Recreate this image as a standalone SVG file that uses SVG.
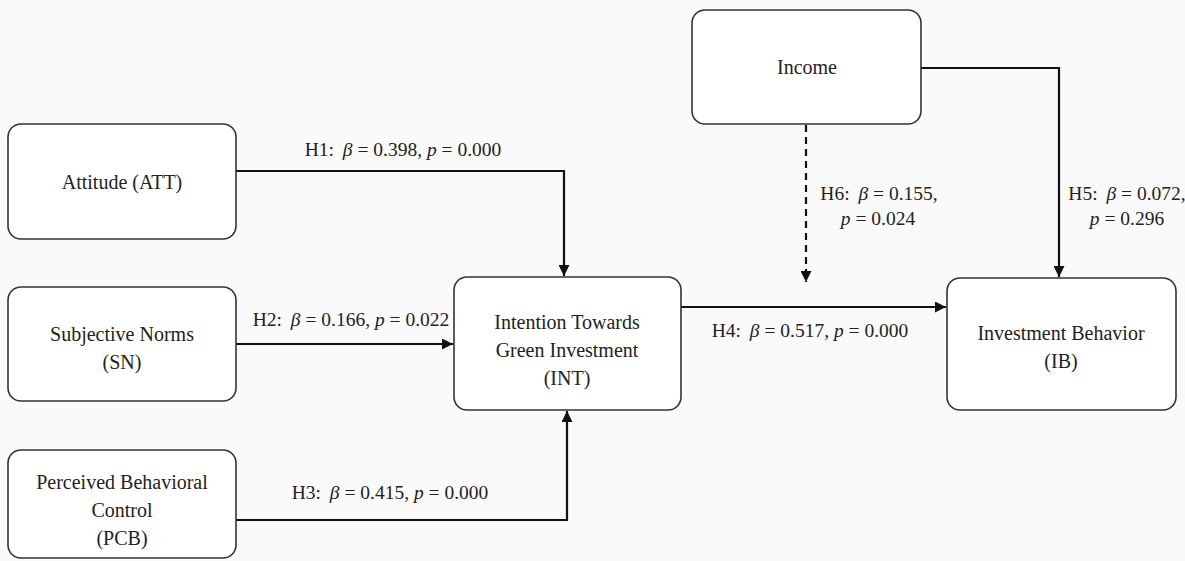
<svg xmlns="http://www.w3.org/2000/svg" width="1185" height="561" viewBox="0 0 1185 561">
<style>
.box{fill:#ffffff;stroke:#333;stroke-width:1.6}
.t{font-family:"Liberation Serif","Times New Roman",serif;font-size:20px;fill:#222;text-anchor:middle}
.l{font-size:19.5px}
.i{font-style:italic}
.c{fill:none;stroke:#111;stroke-width:2.2}
.d{stroke-dasharray:7 5}
</style>
<defs>
<marker id="ah" viewBox="0 0 10 10" refX="10" refY="5" markerWidth="5" markerHeight="5" orient="auto" markerUnits="strokeWidth">
<path d="M0,0 L10,5 L0,10 z" fill="#111"/>
</marker>
</defs>
<rect width="1185" height="561" fill="#fafafa"/>
<g id="connectors">
<path class="c" d="M236,171 H564 V276" marker-end="url(#ah)"/>
<path class="c" d="M236,344 H453" marker-end="url(#ah)"/>
<path class="c" d="M236,520 H567 V411" marker-end="url(#ah)"/>
<path class="c" d="M681,307 H946" marker-end="url(#ah)"/>
<path class="c" d="M921,68 H1059 V277" marker-end="url(#ah)"/>
<path class="c d" d="M806,125 V282" marker-end="url(#ah)"/>
<text class="t l" x="403" y="156">H1: <tspan class="i" dx="4">β</tspan> = 0.398, <tspan class="i">p</tspan> = 0.000</text>
<text class="t l" x="351" y="326">H2: <tspan class="i" dx="4">β</tspan> = 0.166, <tspan class="i">p</tspan> = 0.022</text>
<text class="t l" x="390" y="499">H3: <tspan class="i" dx="4">β</tspan> = 0.415, <tspan class="i">p</tspan> = 0.000</text>
<text class="t l" x="810" y="337">H4: <tspan class="i" dx="4">β</tspan> = 0.517, <tspan class="i">p</tspan> = 0.000</text>
<text class="t l" x="879" y="200">H6: <tspan class="i" dx="4">β</tspan> = 0.155,</text>
<text class="t l" x="878" y="225"><tspan class="i">p</tspan> = 0.024</text>
<text class="t l" x="1127" y="200">H5: <tspan class="i" dx="4">β</tspan> = 0.072,</text>
<text class="t l" x="1127" y="225"><tspan class="i">p</tspan> = 0.296</text>
</g>
<g id="att">
<rect class="box" x="8" y="124" width="228" height="115" rx="13"/>
<text class="t" x="122" y="189">Attitude (ATT)</text>
</g>
<g id="sn">
<rect class="box" x="8" y="287" width="228" height="114" rx="13"/>
<text class="t" x="122" y="341">Subjective Norms</text>
<text class="t" x="122" y="369">(SN)</text>
</g>
<g id="pcb">
<rect class="box" x="8" y="450" width="228" height="108" rx="13"/>
<text class="t" x="122" y="489">Perceived Behavioral</text>
<text class="t" x="122" y="517">Control</text>
<text class="t" x="122" y="545">(PCB)</text>
</g>
<g id="int">
<rect class="box" x="454" y="277" width="227" height="133" rx="13"/>
<text class="t" x="567" y="329">Intention Towards</text>
<text class="t" x="567" y="357">Green Investment</text>
<text class="t" x="567" y="385">(INT)</text>
</g>
<g id="income">
<rect class="box" x="692" y="10" width="229" height="114" rx="13"/>
<text class="t" x="807" y="74">Income</text>
</g>
<g id="ib">
<rect class="box" x="947" y="278" width="229" height="132" rx="13"/>
<text class="t" x="1061" y="340">Investment Behavior</text>
<text class="t" x="1061" y="368">(IB)</text>
</g>
</svg>
